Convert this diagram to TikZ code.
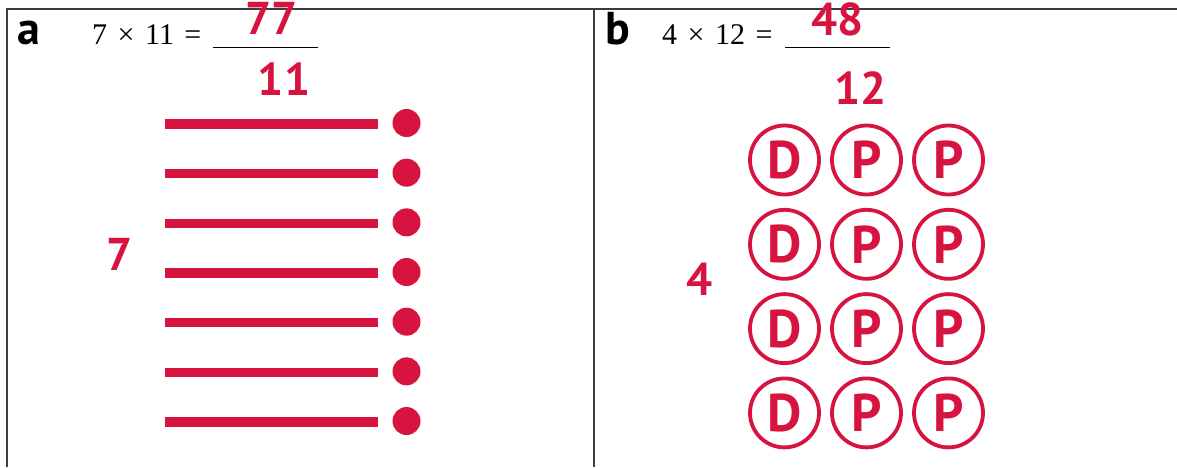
\documentclass[tikz,border=0pt]{standalone}
\usepackage{fontspec}
\newfontfamily\labfont{PT Sans}
\newfontfamily\eqfont{Liberation Serif}
\definecolor{ansred}{RGB}{215,20,64}
\definecolor{framegray}{RGB}{60,60,60}
\newcommand{\eqsp}{\hspace{0.35em}}
\begin{document}
\begin{tikzpicture}[x=1pt,y=-1pt,
  frameline/.style={draw=framegray,line width=1.3pt},
  partlabel/.style={anchor=base west,inner sep=0pt,font=\labfont\bfseries\fontsize{46}{46}\selectfont},
  eqtext/.style={anchor=base west,inner sep=0pt,font=\eqfont\fontsize{30}{30}\selectfont},
  answer/.style={anchor=base,inner sep=0pt,text=ansred,font=\labfont\bfseries\fontsize{46}{46}\selectfont},
  blank/.style={draw=black,line width=1pt},
  bar/.style={draw=ansred,line width=9.6pt},
  dot/.style={circle,fill=ansred,minimum size=28pt,inner sep=0pt},
  coin/.style={circle,draw=ansred,line width=3.8pt,minimum size=69pt,inner sep=0pt,text=ansred,font=\labfont\bfseries\fontsize{53}{53}\selectfont}
]
\useasboundingbox (0,0) rectangle (1177,467);
% frame
\coordinate (tl) at (7,9);
\coordinate (tr) at (1177,9);
\coordinate (bl) at (7,467);
\coordinate (tm) at (594,9);
\coordinate (bm) at (594,467);
\draw[frameline] (bl) -- (tl) -- (tr);
\draw[frameline] (tm) -- (bm);

% panel a
\node[partlabel] (la) at (17,44) {a};
\node[eqtext] (eqa) at (92,44) {7\eqsp×\eqsp11\eqsp=};
\coordinate (ua1) at (213,47);
\coordinate (ua2) at (318,47);
\draw[blank] (ua1) -- (ua2);
\node[answer] (ansa) at (271.5,34.5) {77};
\node[answer] (topa) at (284,95.5) {11};
\node[answer] (sidea) at (119.5,270) {7};
\foreach \i in {0,...,6}{
  \coordinate (bs\i) at (164.5,124+49.67*\i);
  \coordinate (be\i) at (377.5,124+49.67*\i);
  \draw[bar] (bs\i) -- (be\i);
  \node[dot] (dot\i) at (406.5,123+49.67*\i) {};
}

% panel b
\node[partlabel] (lb) at (605,44) {b};
\node[eqtext] (eqb) at (662,44) {4\eqsp×\eqsp12\eqsp=};
\coordinate (ub1) at (785,47.5);
\coordinate (ub2) at (890,47.5);
\draw[blank] (ub1) -- (ub2);
\node[answer] (ansb) at (837.5,35) {48};
\node[answer] (topb) at (860.5,104) {12};
\node[answer] (sideb) at (700,295) {4};
\foreach \r in {0,...,3}{
  \node[coin] (d\r) at (784.5,160+84.3*\r) {D};
  \node[coin] (p\r) at (866.5,160+84.3*\r) {P};
  \node[coin] (q\r) at (948.5,160+84.3*\r) {P};
}
\end{tikzpicture}
\end{document}
